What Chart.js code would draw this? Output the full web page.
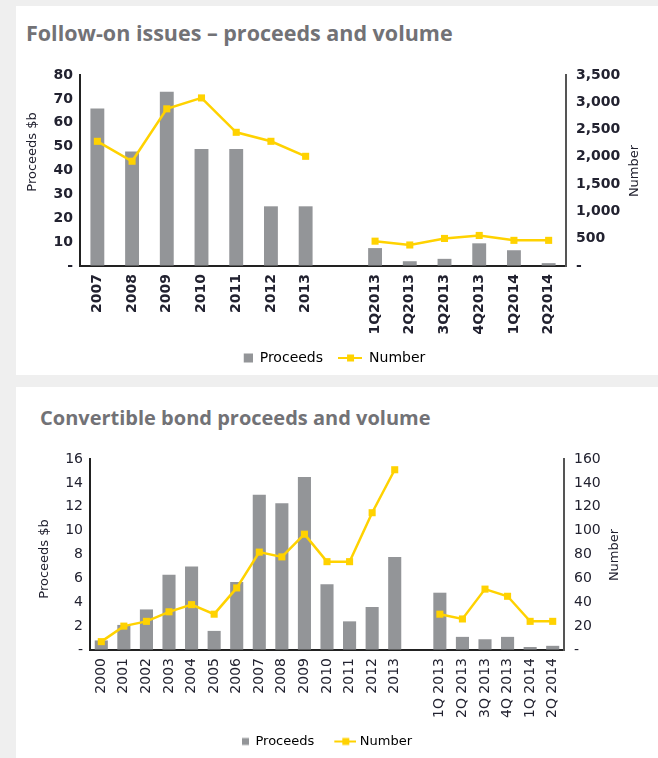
<!DOCTYPE html>
<html>
<head>
<meta charset="utf-8">
<title>Follow-on issues and convertible bonds</title>
<script src="https://cdn.jsdelivr.net/npm/chart.js@4.4.1/dist/chart.umd.min.js"></script>
<style>
  body { margin: 0; background: #efefef; width: 658px; height: 758px; overflow: hidden; position: relative; }
  .panel { position: absolute; left: 16px; width: 642px; background: #fff; }
  #p1 { top: 6px; height: 369px; }
  #p2 { top: 387px; height: 371px; }
  .title { position: absolute; font-family: 'Open Sans', sans-serif; font-weight: 700; line-height: 26px; color: #727276; white-space: nowrap; }
  #t1 { left: 10px; top: 14px; font-size: 21.5px; }
  #t2 { left: 24px; top: 18px; font-size: 20px; }
  canvas { position: absolute; left: 0; top: 0; }
</style>
</head>
<body>
<div class="panel" id="p1">
  <div class="title" id="t1">Follow-on issues – proceeds and volume</div>
  <canvas id="followChart" width="642" height="369"></canvas>
</div>
<div class="panel" id="p2">
  <div class="title" id="t2">Convertible bond proceeds and volume</div>
  <canvas id="convChart" width="642" height="371"></canvas>
</div>
<script>
// Follow-on issues data
const foYears = ['2007', '2008', '2009', '2010', '2011', '2012', '2013'];
const foQuarters = ['1Q2013', '2Q2013', '3Q2013', '4Q2013', '1Q2014', '2Q2014'];
const foYearProceeds = [66, 48, 73, 49, 49, 25, 25];
const foQuarterProceeds = [7.5, 2, 3, 9.5, 6.6, 1.2];
const foYearNumber = [2285, 1920, 2880, 3080, 2450, 2285, 2010];
const foQuarterNumber = [455, 385, 505, 560, 470, 470];

// Convertible bond data
const cbYears = ['2000', '2001', '2002', '2003', '2004', '2005', '2006', '2007', '2008', '2009', '2010', '2011', '2012', '2013'];
const cbQuarters = ['1Q 2013', '2Q 2013', '3Q 2013', '4Q 2013', '1Q 2014', '2Q 2014'];
const cbYearProceeds = [0.8, 2.1, 3.4, 6.3, 7.0, 1.6, 5.7, 13.0, 12.3, 14.5, 5.5, 2.4, 3.6, 7.8];
const cbQuarterProceeds = [4.8, 1.1, 0.9, 1.1, 0.25, 0.35];
const cbYearNumber = [7, 20, 24, 32, 38, 30, 52, 82, 78, 97, 74, 74, 115, 151];
const cbQuarterNumber = [30, 26, 51, 45, 24, 24];

const GREY = '#939598';
const YELLOW = '#ffd200';
const INK = '#222230';
const FONT = 'DejaVu Sans';

// legend icons: grey square / yellow line with square marker
function barIcon(sq) {
    const c = document.createElement('canvas');
    c.width = 24;
    c.height = 10;
    const g = c.getContext('2d');
    g.fillStyle = GREY;
    g.fillRect(24 - sq, 5 - sq / 2, sq, sq);
    return c;
}

function lineIcon(w, from) {
    const c = document.createElement('canvas');
    c.width = w;
    c.height = 10;
    const g = c.getContext('2d');
    g.fillStyle = YELLOW;
    g.fillRect(from, 4, w - from, 2);
    const mid = (from + w) / 2;
    g.fillRect(Math.round(mid - 3.5), 1.5, 7, 7);
    return c;
}

// rotated axis titles (both read bottom-to-top)
const axisTitles = {
    id: 'axisTitles',
    afterDraw(chart, args, opts) {
        const ctx = chart.ctx;
        ctx.save();
        ctx.font = opts.font;
        ctx.fillStyle = INK;
        ctx.textAlign = 'center';
        ctx.textBaseline = 'middle';
        opts.items.forEach(t => {
            ctx.save();
            ctx.translate(t.x, t.y);
            ctx.rotate(-Math.PI / 2);
            ctx.fillText(t.text, 0, 0);
            ctx.restore();
        });
        ctx.restore();
    }
};

function buildChart(id, o) {
    const labels = [...o.years, '', ...o.quarters];
    const proceeds = [...o.yearProceeds, null, ...o.quarterProceeds];
    const number = [...o.yearNumber, null, ...o.quarterNumber];
    const tickFont = { family: FONT, size: o.tickSize, weight: o.tickWeight };
    const noGrid = { display: true, drawOnChartArea: false, drawTicks: false };

    return new Chart(document.getElementById(id), {
        type: 'bar',
        data: {
            labels: labels,
            datasets: [
                {
                    type: 'bar',
                    label: 'Proceeds',
                    data: proceeds,
                    yAxisID: 'y',
                    backgroundColor: GREY,
                    barPercentage: o.barPct,
                    categoryPercentage: 1,
                    order: 1
                },
                {
                    type: 'line',
                    label: 'Number',
                    data: number,
                    yAxisID: 'y1',
                    borderColor: YELLOW,
                    backgroundColor: YELLOW,
                    borderWidth: 2.5,
                    pointStyle: 'rect',
                    pointRadius: 5,
                    pointBorderWidth: 0,
                    tension: 0,
                    spanGaps: false,
                    order: 0
                }
            ]
        },
        options: {
            responsive: false,
            animation: false,
            layout: { padding: { top: o.padTop, left: 0, right: o.padRight, bottom: 0 } },
            plugins: {
                tooltip: { enabled: false },
                legend: {
                    position: 'bottom',
                    labels: {
                        usePointStyle: true,
                        pointStyleWidth: 24,
                        padding: 15,
                        color: INK,
                        font: { family: FONT, size: o.legendSize },
                        generateLabels: () => [
                            { text: 'Proceeds', pointStyle: o.icons[0], datasetIndex: 0, fillStyle: 'transparent', strokeStyle: 'transparent', lineWidth: 0, hidden: false },
                            { text: 'Number', pointStyle: o.icons[1], datasetIndex: 1, fillStyle: 'transparent', strokeStyle: 'transparent', lineWidth: 0, hidden: false }
                        ]
                    }
                },
                axisTitles: {
                    font: '13px "' + FONT + '"',
                    items: o.axisTitles
                }
            },
            scales: {
                x: {
                    grid: noGrid,
                    border: { display: true, color: '#222', width: 2 },
                    ticks: { minRotation: 90, maxRotation: 90, autoSkip: false, padding: 8, color: INK, font: tickFont },
                    afterFit: s => { s.height = o.xAxisH; }
                },
                y: {
                    position: 'left',
                    min: 0,
                    max: o.yMax,
                    grid: noGrid,
                    border: { display: true, color: '#222', width: 2 },
                    ticks: {
                        stepSize: o.yStep,
                        padding: 7,
                        color: INK,
                        font: tickFont,
                        callback: v => v === 0 ? '-' : v
                    },
                    afterFit: s => { s.width = o.leftW; }
                },
                y1: {
                    position: 'right',
                    min: 0,
                    max: o.y1Max,
                    grid: noGrid,
                    border: { display: true, color: '#555', width: 2 },
                    ticks: {
                        stepSize: o.y1Step,
                        padding: 10,
                        color: INK,
                        font: tickFont,
                        callback: v => v === 0 ? '-' : v.toLocaleString('en-US')
                    },
                    afterFit: s => { s.width = o.rightW; }
                }
            }
        },
        plugins: [axisTitles]
    });
}

buildChart('followChart', {
    years: foYears, quarters: foQuarters,
    yearProceeds: foYearProceeds, quarterProceeds: foQuarterProceeds,
    yearNumber: foYearNumber, quarterNumber: foQuarterNumber,
    yMax: 80, yStep: 10, y1Max: 3500, y1Step: 500,
    barPct: 0.4, tickSize: 14, tickWeight: 'bold', legendSize: 14,
    icons: [barIcon(9), lineIcon(24, 0)],
    leftW: 64, rightW: 72, padRight: 20, padTop: 69, xAxisH: 70,
    axisTitles: [
        { text: 'Proceeds $b', x: 17, y: 146 },
        { text: 'Number', x: 619, y: 165 }
    ]
});

buildChart('convChart', {
    years: cbYears, quarters: cbQuarters,
    yearProceeds: cbYearProceeds, quarterProceeds: cbQuarterProceeds,
    yearNumber: cbYearNumber, quarterNumber: cbQuarterNumber,
    yMax: 16, yStep: 2, y1Max: 160, y1Step: 20,
    barPct: 0.58, tickSize: 14, tickWeight: 'normal', legendSize: 13,
    icons: [barIcon(7), lineIcon(30, 8)],
    leftW: 74, rightW: 57, padRight: 37, padTop: 72, xAxisH: 70,
    axisTitles: [
        { text: 'Proceeds $b', x: 29, y: 172 },
        { text: 'Number', x: 599, y: 168 }
    ]
});
</script>
</body>
</html>
